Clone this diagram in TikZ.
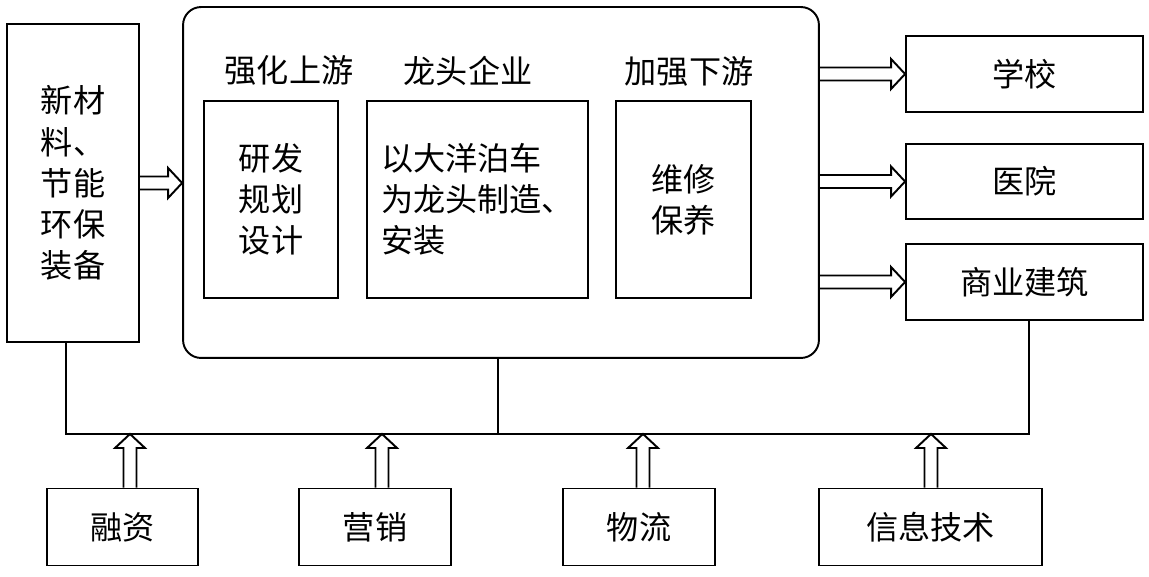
\documentclass[tikz,border=0pt]{standalone}
\usepackage{fontspec}
\setmainfont{Noto Sans CJK SC}
\usepackage{tikz}
\usetikzlibrary{calc}
\tikzset{
  box/.style={draw, line width=1.1pt, align=center, inner sep=0pt,
              font=\fontsize{18.3}{23.4}\selectfont},
  head/.style={inner sep=0pt, font=\fontsize{18.3}{23.4}\selectfont},
  bus/.style={line width=1.1pt},
  fatarrow/.style={line width=1.1pt, to path={
      ($(\tikztostart)!0.13cm!90:(\tikztotarget)$)
   -- ($(\tikztotarget)!0.28cm!(\tikztostart)!0.13cm!90:(\tikztotarget)$)
   -- ($(\tikztotarget)!0.28cm!(\tikztostart)!0.3cm!90:(\tikztotarget)$)
   -- (\tikztotarget)
   -- ($(\tikztotarget)!0.28cm!(\tikztostart)!0.3cm!-90:(\tikztotarget)$)
   -- ($(\tikztotarget)!0.28cm!(\tikztostart)!0.13cm!-90:(\tikztotarget)$)
   -- ($(\tikztostart)!0.13cm!-90:(\tikztotarget)$)}}
}

\begin{document}
\begin{tikzpicture}[x=0.02cm,y=-0.02cm]
  \useasboundingbox (0,0) rectangle (1149,577);
  % left input and core block
  \node[box, align=left, minimum width=2.64cm, minimum height=6.36cm] (mat) at (73,183) {新材\\料、\\节能\\环保\\装备};
  \node[box, rounded corners=0.36cm, minimum width=12.72cm, minimum height=7.02cm] (core) at (501,182.5) {};
  \node[head] (up) at (289,70) {强化上游};
  \node[head] (lead) at (468,71) {龙头企业};
  \node[head] (down) at (689,71) {加强下游};
  \node[box, minimum width=2.68cm, minimum height=3.94cm] (rd) at (271,199.5) {研发\\规划\\设计};
  \node[box, align=left, minimum width=4.42cm, minimum height=3.94cm] (maker) at (477.5,199.5) {以大洋泊车\\为龙头制造、\\安装};
  \node[box, minimum width=2.70cm, minimum height=3.94cm] (svc) at (683.5,199.5) {维修\\保养};
  % outputs
  \node[box, minimum width=4.74cm, minimum height=1.52cm] (school) at (1024.5,74) {学校};
  \node[box, minimum width=4.74cm, minimum height=1.50cm] (hosp) at (1024.5,181.5) {医院};
  \node[box, minimum width=4.74cm, minimum height=1.52cm] (comm) at (1024.5,282) {商业建筑};
  % supports
  \node[box, minimum width=3.02cm, minimum height=1.54cm] (fin) at (122.5,527) {融资};
  \node[box, minimum width=3.04cm, minimum height=1.54cm] (mkt) at (375,527) {营销};
  \node[box, minimum width=3.04cm, minimum height=1.54cm] (logi) at (639,527) {物流};
  \node[box, minimum width=4.46cm, minimum height=1.54cm] (it) at (930.5,527) {信息技术};
  \coordinate (bl) at (66,434);
  \coordinate (bm) at (498,434);
  \coordinate (br) at (1029,434);
  \coordinate (t1) at (130,434);
  \coordinate (t2) at (382,434);
  \coordinate (t3) at (643,434);
  \coordinate (t4) at (931,434);
  \draw[bus] (bl |- mat.south) -- (bl) -- (br) -- (br |- comm.south);
  \draw[bus] (bm |- core.south) -- (bm);
  \draw[fatarrow] (mat.east) to (mat.east -| core.west);
  \draw[fatarrow] (core.east |- school.west) to (school.west);
  \draw[fatarrow] (core.east |- hosp.west) to (hosp.west);
  \draw[fatarrow] (core.east |- comm.west) to (comm.west);
  \draw[fatarrow] (t1 |- fin.north) to (t1);
  \draw[fatarrow] (t2 |- mkt.north) to (t2);
  \draw[fatarrow] (t3 |- logi.north) to (t3);
  \draw[fatarrow] (t4 |- it.north) to (t4);
\end{tikzpicture}
\end{document}
